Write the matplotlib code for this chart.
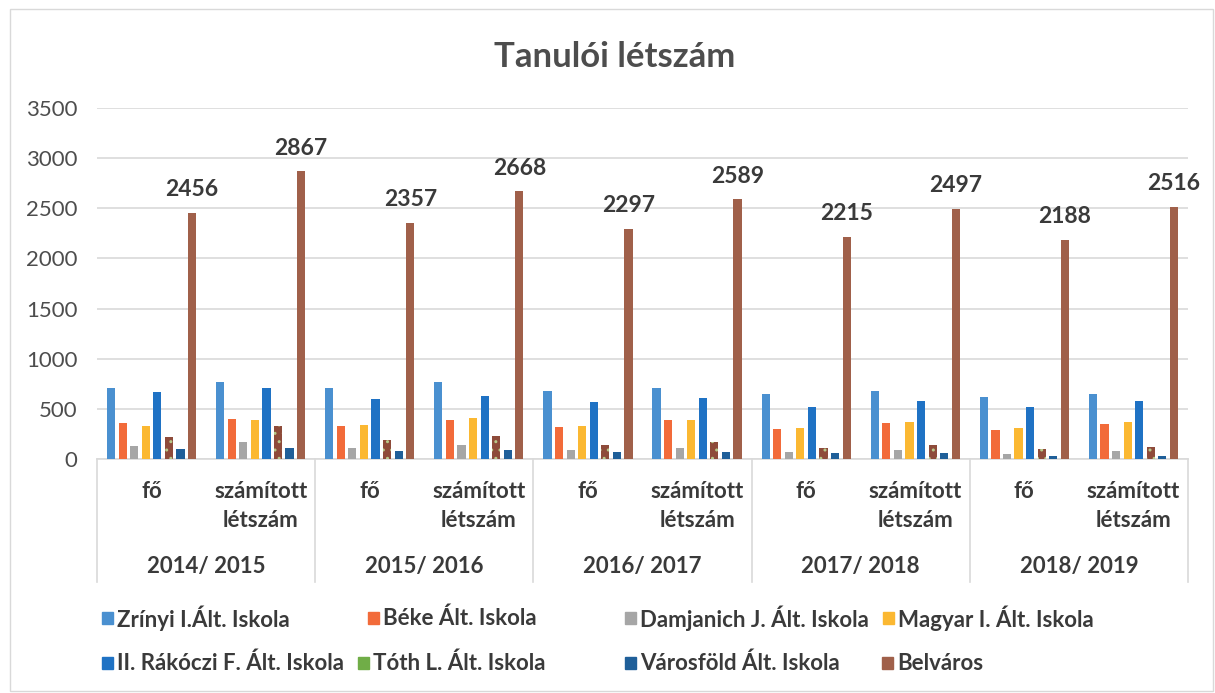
import matplotlib
import matplotlib.pyplot as plt
import numpy as np
from matplotlib.patches import Rectangle

matplotlib.use("Agg")
plt.rcParams["font.family"] = ["Lato", "DejaVu Sans"]

# data
years = ["2014/ 2015", "2015/ 2016", "2016/ 2017", "2017/ 2018", "2018/ 2019"]
sub_labels = ["fő", "számított\nlétszám"]

schools = [
    "Zrínyi I.Ált. Iskola",
    "Béke Ált. Iskola",
    "Damjanich J. Ált. Iskola",
    "Magyar I. Ált. Iskola",
    "II. Rákóczi F. Ált. Iskola",
    "Tóth L. Ált. Iskola",
    "Városföld Ált. Iskola",
    "Belváros",
]

zrinyi = [707, 763, 703, 767, 677, 707, 650, 680, 623, 647]
beke = [357, 403, 330, 387, 323, 390, 300, 360, 290, 347]
damjanich = [130, 173, 110, 137, 90, 113, 73, 90, 53, 83]
magyar = [330, 390, 337, 407, 327, 390, 313, 373, 310, 370]
rakoczi = [673, 703, 597, 630, 570, 613, 520, 577, 520, 583]
toth = [220, 333, 190, 227, 137, 170, 107, 140, 103, 120]
varosfold = [100, 110, 77, 87, 70, 70, 57, 57, 27, 33]
belvaros = [2456, 2867, 2357, 2668, 2297, 2589, 2215, 2497, 2188, 2516]

series = [zrinyi, beke, damjanich, magyar, rakoczi, toth, varosfold, belvaros]

bar_colors = ["#4a90d0", "#f26b3a", "#a6a6a6", "#fbb832", "#1f72c4", "#8e4b3a", "#1f5f99", "#a0604a"]
legend_colors = ["#4a90d0", "#f26b3a", "#a6a6a6", "#fbb832", "#1f72c4", "#70ad47", "#1f5f99", "#a0604a"]

text_col = "#3a3a3a"
grid_col = "#d9d9d9"

W, H = 1215, 693
fig = plt.figure(figsize=(W / 100, H / 100), dpi=100)
ax = fig.add_axes([97 / W, 1 - 459 / H, (1188 - 97) / W, (459 - 108) / H])

n_cat = len(belvaros)
x = np.arange(n_cat)
pitch = 0.106
width = 0.075
for i, (vals, col) in enumerate(zip(series, bar_colors)):
    kw = {}
    if i == 5:
        kw = dict(hatch="..", edgecolor="#b8c98a", linewidth=0)
    bars = ax.bar(x + (i - 3.5) * pitch, vals, width, color=col, zorder=3, **kw)
    if i == 7:
        for b, v in zip(bars, vals):
            ax.annotate(str(v), (b.get_x() + b.get_width() / 2, v), xytext=(0, 9),
                        textcoords="offset points", ha="center", va="bottom",
                        fontsize=16.5, fontweight="bold", color=text_col)

ax.set_xlim(-0.5, n_cat - 0.5)
ax.set_ylim(0, 3500)
ax.set_yticks(np.arange(0, 3501, 500))
ax.tick_params(axis="y", length=0, labelsize=16, labelcolor="#4d4d4d", pad=14)
ax.set_xticks([])
ax.grid(axis="y", color=grid_col, linewidth=1.2, zorder=0)
for s in ["top", "right", "left"]:
    ax.spines[s].set_visible(False)
ax.spines["bottom"].set_color(grid_col)
ax.spines["bottom"].set_linewidth(1.2)

# multi-level category axis
trans = ax.get_xaxis_transform()
ax_h = 459 - 108
for k in range(n_cat):
    lab = sub_labels[k % 2]
    if k % 2 == 0:
        ax.text(k, -(491 - 459) / ax_h, lab, transform=trans, ha="center", va="center",
                fontsize=16, fontweight="bold", color=text_col)
    else:
        ax.text(k, -(506 - 459) / ax_h, lab, transform=trans, ha="center", va="center",
                fontsize=16, fontweight="bold", color=text_col, linespacing=1.5)
for j, yr in enumerate(years):
    ax.text(2 * j + 0.5, -(566 - 459) / ax_h, yr, transform=trans, ha="center", va="center",
            fontsize=16, fontweight="bold", color=text_col)
for b in np.arange(-0.5, n_cat, 2):
    ax.plot([b, b], [0, -(582 - 459) / ax_h], transform=trans, color=grid_col,
            linewidth=1.2, clip_on=False)

fig.text(615 / W, 1 - 57 / H, "Tanulói létszám", ha="center", va="center",
         fontsize=25, fontweight="bold", color="#4d4d4d")

# legend, placed like the original
leg_pos = [(102, 618), (368, 618), (625, 618), (883, 618),
           (102, 663), (358, 663), (625, 663), (882, 663)]
for name, col, (lx, ly) in zip(schools, legend_colors, leg_pos):
    fig.add_artist(Rectangle((lx / W, 1 - (ly + 6) / H), 11 / W, 12 / H,
                             transform=fig.transFigure, color=col))
    fig.text((lx + 15) / W, 1 - ly / H, name, ha="left", va="center",
             fontsize=16, fontweight="bold", color=text_col)

fig.add_artist(Rectangle((10 / W, 2 / H), (W - 12) / W, (H - 11) / H, transform=fig.transFigure,
                         fill=False, edgecolor="#d9d9d9", linewidth=1))

fig.savefig("out.png", dpi=100)
